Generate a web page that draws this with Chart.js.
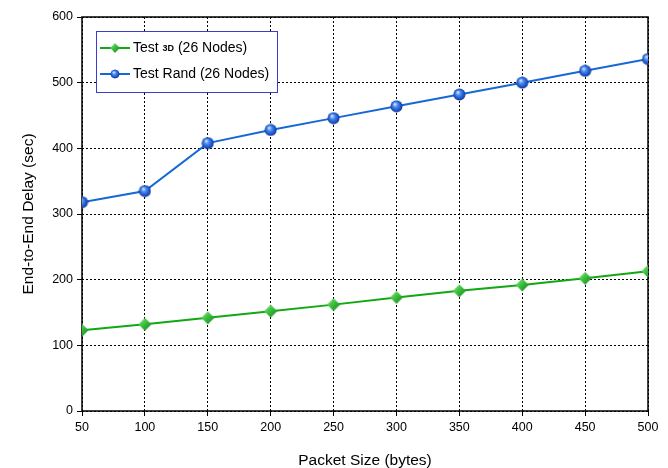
<!DOCTYPE html>
<html>
<head>
<meta charset="utf-8">
<script src="https://cdn.jsdelivr.net/npm/chart.js@4"></script>
<style>
  html, body { margin: 0; padding: 0; background: #fff; }
  #wrap { width: 668px; height: 468px; }
</style>
</head>
<body>
<div id="wrap"><canvas id="myChart" width="668" height="468"></canvas></div>
<script>
// packet sizes (bytes)
const PACKET_SIZES = [50, 100, 150, 200, 250, 300, 350, 400, 450, 500];
// end-to-end delay (sec)
const DELAY_3D = [123, 132, 142, 152, 162, 173, 183, 192, 202, 213];
const DELAY_RAND = [318, 335, 408, 428, 446, 464, 482, 500, 518, 536];
const Y_TICKS = [0, 100, 200, 300, 400, 500, 600];

const FONT = "'Liberation Sans', Arial, sans-serif";

// small shaded markers, like the original
function makeBall(size) {
    const c = document.createElement('canvas');
    c.width = size; c.height = size;
    const g = c.getContext('2d');
    const r = size / 2;
    const grad = g.createRadialGradient(r * 0.75, r * 0.65, 0.5, r, r, r);
    grad.addColorStop(0, '#cfe2ff');
    grad.addColorStop(0.3, '#4f8ff0');
    grad.addColorStop(0.75, '#1a4fc4');
    grad.addColorStop(1, '#0b2a7a');
    g.fillStyle = grad;
    g.beginPath();
    g.arc(r, r, r - 0.5, 0, Math.PI * 2);
    g.fill();
    return c;
}
function makeDiamond(size) {
    const c = document.createElement('canvas');
    c.width = size; c.height = size;
    const g = c.getContext('2d');
    const r = size / 2;
    const grad = g.createLinearGradient(0, 0, size, size);
    grad.addColorStop(0, '#a6eaa6');
    grad.addColorStop(0.45, '#3cc23c');
    grad.addColorStop(1, '#107a20');
    g.fillStyle = grad;
    g.beginPath();
    g.moveTo(r, 0.5);
    g.lineTo(size - 0.5, r);
    g.lineTo(r, size - 0.5);
    g.lineTo(0.5, r);
    g.closePath();
    g.fill();
    return c;
}
const ball = makeBall(13);
const diamond = makeDiamond(14);

function toPoints(ys) {
    return PACKET_SIZES.map((x, i) => ({ x: x, y: ys[i] }));
}

// frame around the plot + hand drawn legend (mixed font for "3D")
const framePlugin = {
    id: 'frame',
    beforeDatasetsDraw(chart) {
        const a = chart.chartArea, ctx = chart.ctx;
        ctx.save();
        ctx.strokeStyle = '#000';
        ctx.lineWidth = 1.5;
        ctx.strokeRect(a.left, a.top, a.right - a.left, a.bottom - a.top);
        ctx.restore();
    },
    afterDraw(chart) {
        const ctx = chart.ctx;
        ctx.save();
        ctx.fillStyle = '#fff';
        ctx.fillRect(96, 31, 181, 61);
        ctx.strokeStyle = '#3b3bd0';
        ctx.lineWidth = 1;
        ctx.strokeRect(96.5, 31.5, 181, 61);

        const items = [
            { ds: chart.data.datasets[0], img: diamond, y: 48 },
            { ds: chart.data.datasets[1], img: ball, y: 74 }
        ];
        items.forEach(it => {
            ctx.strokeStyle = it.ds.borderColor;
            ctx.lineWidth = 2;
            ctx.beginPath();
            ctx.moveTo(100, it.y);
            ctx.lineTo(130, it.y);
            ctx.stroke();
            const s = it.img.width * 0.75;
            ctx.drawImage(it.img, 115 - s / 2, it.y - s / 2, s, s);
        });

        ctx.fillStyle = '#000';
        ctx.textBaseline = 'middle';
        ctx.font = '14px ' + FONT;
        let x = 133;
        ctx.fillText('Test ', x, 48);
        x += ctx.measureText('Test ').width;
        ctx.font = 'bold 9px ' + FONT;
        ctx.fillText('3D', x, 49);
        x += ctx.measureText('3D').width;
        ctx.font = '14px ' + FONT;
        ctx.fillText(' (26 Nodes)', x, 48);
        ctx.fillText('Test Rand (26 Nodes)', 133, 74);
        ctx.restore();
    }
};

const gridOpts = {
    color: '#000',
    lineWidth: 1,
    tickColor: '#000',
    tickLength: 5,
    tickBorderDash: [],
    tickBorderDashOffset: 0
};

var ctx = document.getElementById('myChart').getContext('2d');
var myChart = new Chart(ctx, {
    type: 'line',
    data: {
        datasets: [
            {
                label: 'Test 3D (26 Nodes)',
                data: toPoints(DELAY_3D),
                borderColor: '#12a812',
                borderWidth: 2,
                pointStyle: diamond,
                pointRadius: 7,
                pointHoverRadius: 7
            },
            {
                label: 'Test Rand (26 Nodes)',
                data: toPoints(DELAY_RAND),
                borderColor: '#1668d6',
                borderWidth: 2,
                pointStyle: ball,
                pointRadius: 7,
                pointHoverRadius: 7
            }
        ]
    },
    options: {
        responsive: false,
        animation: false,
        events: [],
        layout: {
            autoPadding: false,
            padding: { left: 0, top: 17, right: 20, bottom: 0 }
        },
        plugins: {
            legend: { display: false },
            tooltip: { enabled: false }
        },
        scales: {
            x: {
                type: 'linear',
                min: 50,
                max: 500,
                afterFit: (scale) => { scale.height = 57; },
                ticks: {
                    stepSize: 50,
                    color: '#000',
                    padding: 4,
                    font: { family: FONT, size: 12.5 }
                },
                grid: gridOpts,
                border: { display: false, dash: [2, 2] },
                title: {
                    display: true,
                    text: 'Packet Size (bytes)',
                    color: '#000',
                    font: { family: FONT, size: 15.5 },
                    padding: { top: 0, bottom: -2 }
                }
            },
            y: {
                min: 0,
                max: 600,
                afterFit: (scale) => { scale.width = 82; },
                afterBuildTicks: (scale) => { scale.ticks = Y_TICKS.map(v => ({ value: v })); },
                ticks: {
                    color: '#000',
                    padding: 4,
                    font: { family: FONT, size: 12.5 }
                },
                grid: gridOpts,
                border: { display: false, dash: [2, 2] },
                title: {
                    display: true,
                    text: 'End-to-End Delay (sec)',
                    color: '#000',
                    font: { family: FONT, size: 15.5 },
                    padding: { top: 19, bottom: 0 }
                }
            }
        }
    },
    plugins: [framePlugin]
});
</script>
</body>
</html>
